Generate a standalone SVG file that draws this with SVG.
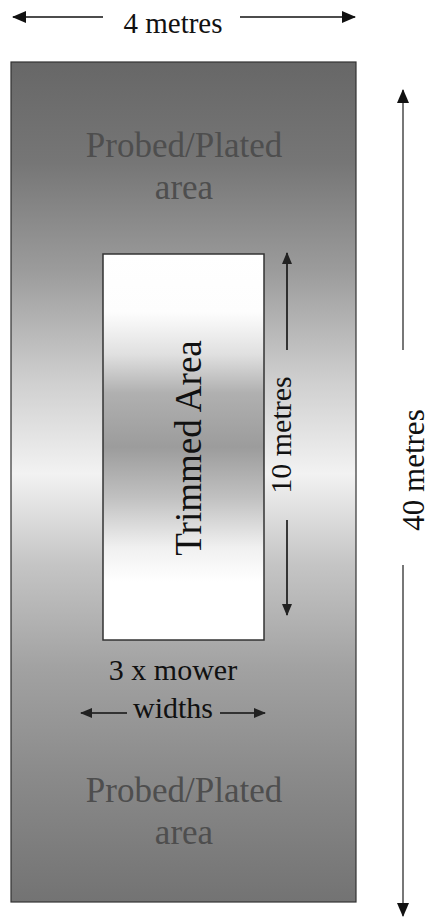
<svg xmlns="http://www.w3.org/2000/svg" width="432" height="924" viewBox="0 0 432 924">
<style>
  text { font-family: "Liberation Serif", "Times New Roman", serif; }
  .lbl { fill: #111; }
  .probed { fill: #4e4e4e; font-size: 35px; text-anchor: middle; }
  .dim { stroke: #111; stroke-width: 1.6; fill: none; }
  .dimg { stroke: #555; stroke-width: 1.6; fill: none; }
</style>
<defs>
  <linearGradient id="outerGrad" x1="0" y1="0" x2="0" y2="1">
    <stop offset="0" stop-color="#676767"/>
    <stop offset="0.12" stop-color="#767676"/>
    <stop offset="0.25" stop-color="#9c9c9c"/>
    <stop offset="0.38" stop-color="#cfcfcf"/>
    <stop offset="0.49" stop-color="#f2f2f2"/>
    <stop offset="0.6" stop-color="#c4c4c4"/>
    <stop offset="0.72" stop-color="#a2a2a2"/>
    <stop offset="0.85" stop-color="#8a8a8a"/>
    <stop offset="1" stop-color="#737373"/>
  </linearGradient>
  <linearGradient id="innerGrad" x1="0" y1="0" x2="0" y2="1">
    <stop offset="0" stop-color="#ffffff"/>
    <stop offset="0.15" stop-color="#fdfdfd"/>
    <stop offset="0.26" stop-color="#e0e0e0"/>
    <stop offset="0.36" stop-color="#b0b0b0"/>
    <stop offset="0.5" stop-color="#9c9c9c"/>
    <stop offset="0.63" stop-color="#c0c0c0"/>
    <stop offset="0.76" stop-color="#f0f0f0"/>
    <stop offset="0.85" stop-color="#ffffff"/>
    <stop offset="1" stop-color="#ffffff"/>
  </linearGradient>
  <marker id="ah" markerUnits="userSpaceOnUse" markerWidth="14" markerHeight="12" refX="13" refY="6" orient="auto-start-reverse">
    <path d="M0,0 L14,6 L0,12 Z" fill="#111"/>
  </marker>
  <marker id="ahs" markerUnits="userSpaceOnUse" markerWidth="12" markerHeight="10" refX="11" refY="5" orient="auto-start-reverse">
    <path d="M0,0 L12,5 L0,10 Z" fill="#222"/>
  </marker>
</defs>

<g id="outer-area">
  <rect x="11" y="62" width="345" height="840" fill="url(#outerGrad)" stroke="#333" stroke-width="1.2"/>
  <text class="probed" x="184" y="157">Probed/Plated</text>
  <text class="probed" x="184" y="199">area</text>
  <text class="probed" x="184" y="802">Probed/Plated</text>
  <text class="probed" x="184" y="844">area</text>
</g>

<g id="trimmed-area">
  <rect x="103" y="254" width="161" height="386" fill="url(#innerGrad)" stroke="#333" stroke-width="1.5"/>
  <text class="lbl" font-size="37" text-anchor="middle" transform="translate(201,448) rotate(-90)">Trimmed Area</text>
</g>

<g id="mower-label">
  <text class="lbl" font-size="30" text-anchor="middle" x="173" y="680">3 x mower</text>
  <text class="lbl" font-size="30" text-anchor="middle" x="173" y="718">widths</text>
</g>

<g id="width-label">
  <text class="lbl" font-size="29" text-anchor="middle" x="173" y="33">4 metres</text>
</g>

<g id="ten-label">
  <text class="lbl" font-size="30" text-anchor="middle" transform="translate(291,435) rotate(-90)">10 metres</text>
</g>

<g id="forty-label">
  <text class="lbl" font-size="31" text-anchor="middle" transform="translate(424,470) rotate(-90)">40 metres</text>
</g>

<g id="connectors">
  <line class="dim" x1="103" y1="17" x2="13" y2="17" marker-end="url(#ah)"/>
  <line class="dim" x1="240" y1="17" x2="355" y2="17" marker-end="url(#ah)"/>
  <line class="dimg" x1="403" y1="350" x2="403" y2="90" marker-end="url(#ah)"/>
  <line class="dimg" x1="403" y1="565" x2="403" y2="916" marker-end="url(#ah)"/>
  <line class="dim" x1="287" y1="350" x2="287" y2="253" marker-end="url(#ahs)"/>
  <line class="dim" x1="287" y1="520" x2="287" y2="615" marker-end="url(#ahs)"/>
  <line class="dim" x1="127" y1="713" x2="81" y2="713" marker-end="url(#ahs)"/>
  <line class="dim" x1="220" y1="713" x2="265" y2="713" marker-end="url(#ahs)"/>
</g>
</svg>
